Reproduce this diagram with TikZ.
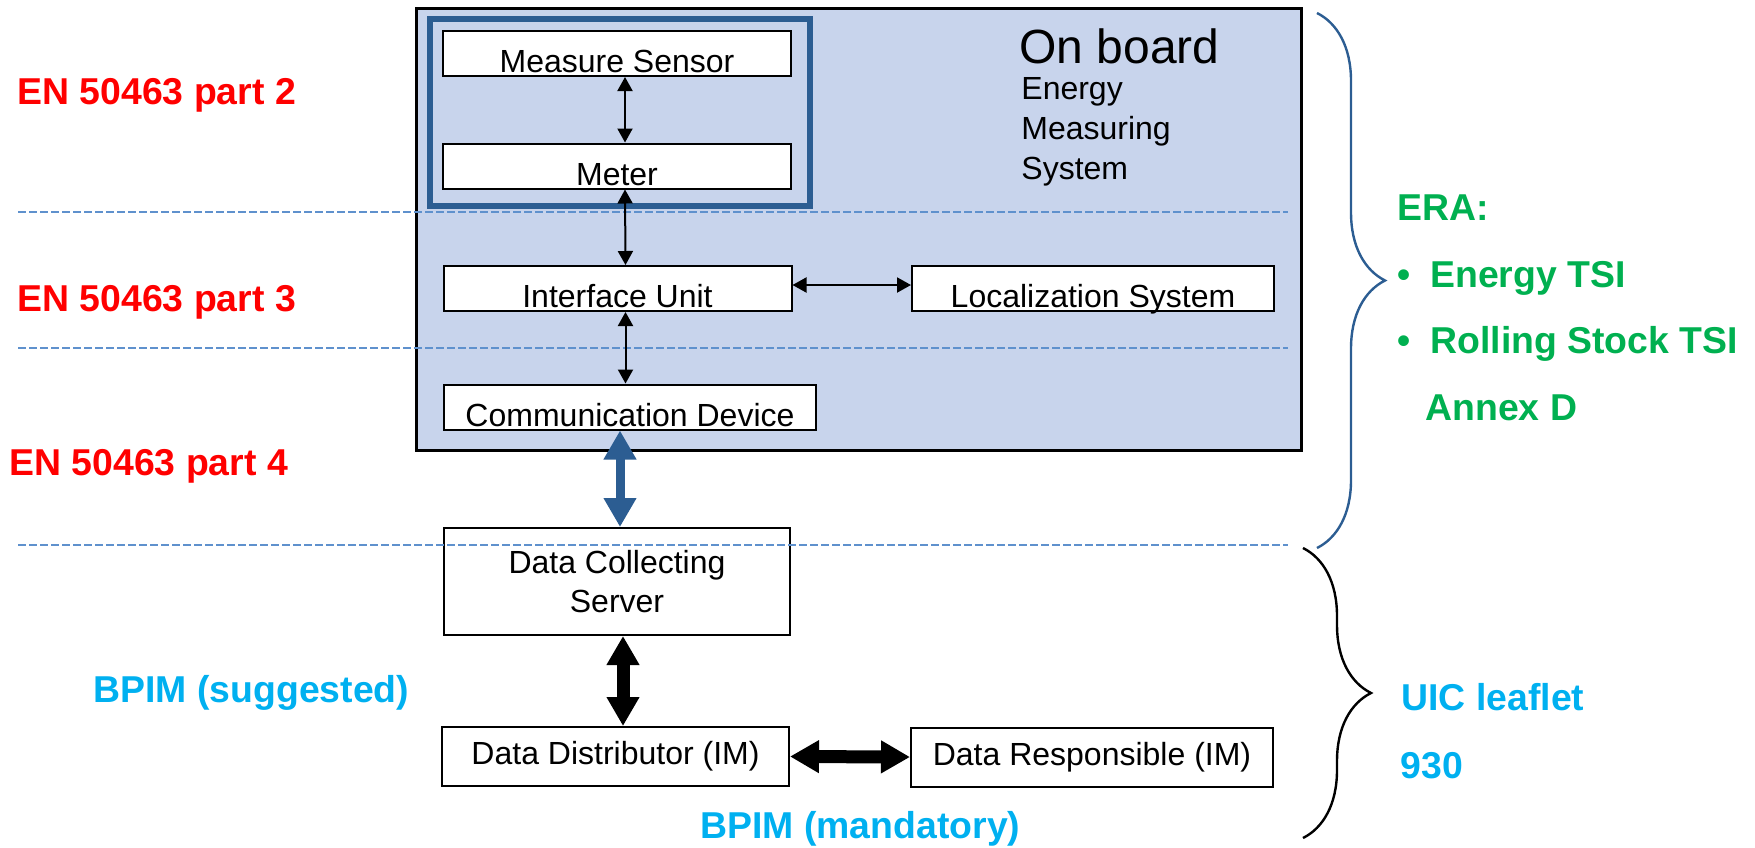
\documentclass[tikz,border=0pt]{standalone}
\usepackage{fontspec}
\setmainfont{Liberation Sans}
\usetikzlibrary{arrows.meta,decorations.pathreplacing}
\definecolor{boardfill}{RGB}{200,212,236}
\definecolor{coreblue}{RGB}{44,93,146}
\definecolor{dashblue}{RGB}{95,145,205}
\definecolor{normred}{RGB}{255,0,0}
\definecolor{eragreen}{RGB}{0,176,80}
\definecolor{uicblue}{RGB}{0,176,240}
\tikzset{
	unit/.style={draw, fill=white, line width=1pt, inner sep=0pt, font=\fontsize{16}{18}\selectfont},
	lowunit/.style={unit, minimum height=22.5pt, text height=20.75pt, text depth=1.75pt},
	norm/.style={anchor=base west, inner sep=0pt, text=normred, font=\bfseries\fontsize{18.7}{22}\selectfont},
	era/.style={anchor=base west, inner sep=0pt, text=eragreen, font=\bfseries\fontsize{18.7}{22}\selectfont},
	uic/.style={anchor=base west, inner sep=0pt, text=uicblue, font=\bfseries\fontsize{18.7}{22}\selectfont},
	thinlink/.style={line width=1pt, {Triangle[width=7.5pt,length=7pt]}-{Triangle[width=7.5pt,length=7pt]}},
	fatlink/.style={line width=#1, {Triangle[width=15.5pt,length=14.5pt]}-{Triangle[width=15.5pt,length=14.5pt]}},
	layer/.style={dashblue, line width=1pt, dash pattern=on 4pt off 1.5pt},
	bracket/.style={line width=1.2pt, decorate, decoration={brace, amplitude=34pt}}
}

\begin{document}
\begin{tikzpicture}[x=0.5pt, y=-0.5pt]
			%%%%% START %%%%%
			\useasboundingbox (0,0) rectangle (1755,847);
			
			\node[draw, fill=boardfill, line width=1.4pt, minimum width=442.5pt, minimum height=221pt] (board) at (859,229.5) {};
			\node[draw=coreblue, line width=3pt, minimum width=190pt, minimum height=93.5pt] (core) at (619.5,112.5) {};
			
			\node[inner sep=0pt, anchor=base west, font=\fontsize{24}{28}\selectfont] (onboard) at (1019,63) {On board};
			\node[inner sep=0pt, anchor=north west, align=left, font=\fontsize{16}{20}\selectfont] (ems) at (1021,77) {Energy\\Measuring\\System};
			
			\node[lowunit, minimum width=174pt] (sensor) at (617,53.5) {Measure Sensor};
			\node[lowunit, minimum width=174pt] (meter) at (617,166) {Meter};
			\node[lowunit, minimum width=174pt] (iface) at (617.5,288.5) {Interface Unit};
			\node[lowunit, minimum width=181pt] (locsys) at (1093,288.5) {Localization System};
			\node[lowunit, minimum width=186pt] (comm) at (630,407) {Communication Device};
			
			\node[unit, minimum width=173pt, minimum height=53.5pt, align=center, font=\fontsize{16}{19.5}\selectfont] (dcs) at (617,581.5) {Data Collecting\\Server};
			\node[unit, minimum width=173.5pt, minimum height=29.5pt] (dd) at (615.5,756.5) {Data Distributor (IM)};
			\node[unit, minimum width=181pt, minimum height=29.5pt] (dr) at (1092,757) {Data Responsible (IM)};
			
			\foreach \y in {212,348,545}
				\draw[layer] (18,\y) -- (1288,\y);
			
			\draw[thinlink] ([xshift=4pt]sensor.south) -- ([xshift=4pt]meter.north);
			\draw[thinlink] ([xshift=4pt]meter.south) -- ([xshift=4pt]iface.north);
			\draw[thinlink] ([xshift=4pt]iface.south) -- ([xshift=4pt]iface.south |- comm.north);
			\draw[thinlink] ([yshift=1.75pt]iface.east) -- ([yshift=1.75pt]locsys.west);
			
			\draw[fatlink=4.5pt, coreblue] ([xshift=-5pt]comm.south) -- ([xshift=-5pt]comm.south |- dcs.north);
			\draw[fatlink=6.5pt] ([xshift=3pt]dcs.south) -- ([xshift=3pt]dcs.south |- dd.north);
			\draw[fatlink=6.5pt] (dd.east) -- (dr.west);
			
			\draw[bracket, coreblue] (1317,13) -- (1317,548);
			\draw[bracket] (1303,548) -- (1303,838);
			
			\node[norm] (part2) at (17,104) {EN 50463 part 2};
			\node[norm] (part3) at (17,311) {EN 50463 part 3};
			\node[norm] (part4) at (9,475) {EN 50463 part 4};
			
			\node[era] (era) at (1397,220) {ERA:};
			\node[era] (tsi1) at (1397,287) {\makebox[16.5pt][l]{\textbullet}Energy TSI};
			\node[era] (tsi2) at (1397,353) {\makebox[16.5pt][l]{\textbullet}Rolling Stock TSI};
			\node[era] (annex) at (1425,420) {Annex D};
			
			\node[uic] (uic) at (1401,710) {UIC leaflet};
			\node[uic] (leaflet) at (1400,778) {930};
			\node[uic] (suggested) at (93,702) {BPIM (suggested)};
			\node[uic] (mandatory) at (700,838) {BPIM (mandatory)};
			%%%%% END %%%%%
\end{tikzpicture}
\end{document}
